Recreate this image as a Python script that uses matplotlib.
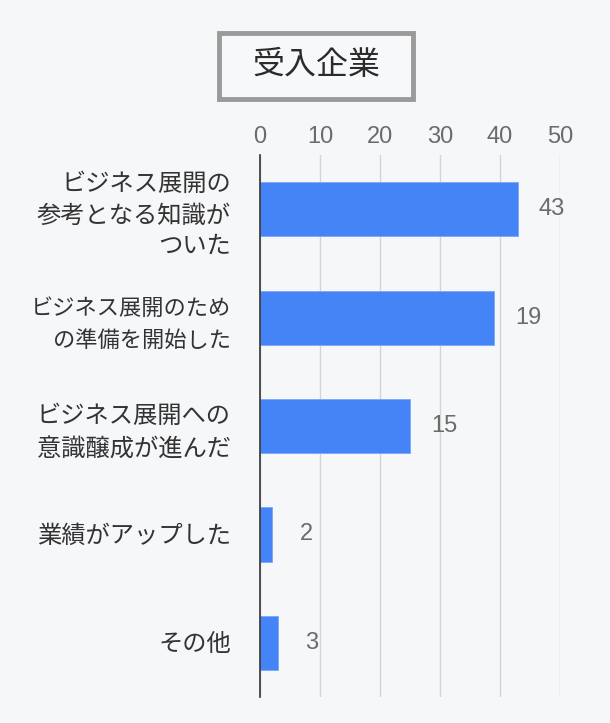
import matplotlib.pyplot as plt
from matplotlib.patches import Rectangle

# -------------------------------
# DATA
# -------------------------------
categories = [
    "ビジネス展開の\n参考となる知識が\nついた",
    "ビジネス展開のため\nの準備を開始した",
    "ビジネス展開への\n意識醸成が進んだ",
    "業績がアップした",
    "その他",
]
# bar lengths as drawn in the picture
bar_values = [43, 39, 25, 2, 3]
# numbers printed next to the bars
value_labels = ["43", "19", "15", "2", "3"]
x_ticks = [0, 10, 20, 30, 40, 50]
title = "受入企業"

# -------------------------------
# STYLE
# -------------------------------
bg = "#f6f7f9"
bar_color = "#4584f7"
jp_fonts = ["Liberation Sans", "Noto Sans CJK JP"]
plt.rcParams["font.family"] = jp_fonts

fig = plt.figure(figsize=(6.1, 7.23), dpi=100, facecolor=bg)
ax = fig.add_axes([260 / 610, 1 - 697 / 723, 300 / 610, 542 / 723])
ax.set_facecolor(bg)

y = list(range(len(categories)))
ax.barh(y, bar_values, height=0.5, color=bar_color,
        edgecolor="#7aa7fa", linewidth=0.6, zorder=3)

ax.set_xlim(0, 50)
ax.set_ylim(len(categories) - 0.5, -0.5)

ax.set_xticks(x_ticks)
ax.xaxis.tick_top()
ax.tick_params(axis="x", length=0, pad=5, labelsize=17, labelcolor="#6b6b6b")
ax.grid(axis="x", color="#d4d4d4", linewidth=1, zorder=0)

ax.set_yticks(y)
ax.set_yticklabels(categories)
ax.tick_params(axis="y", length=0, pad=21, labelsize=17.5, labelcolor="#333333")
for i, lbl in enumerate(ax.get_yticklabels()):
    lbl.set_multialignment("right")
    lbl.set_linespacing(1.5)
    if i == 1:
        # the long second label is drawn a bit smaller in the original
        lbl.set_fontsize(16)
        lbl.set_linespacing(1.65)

for side in ["top", "right", "bottom"]:
    ax.spines[side].set_visible(False)
ax.spines["left"].set_color("#333333")
ax.spines["left"].set_linewidth(1.2)
ax.spines["left"].set_zorder(4)

for i in range(len(bar_values)):
    ax.annotate(value_labels[i], (bar_values[i], i), xytext=(34, 0),
                textcoords="offset pixels", ha="center", va="center",
                fontsize=17, color="#6b6b6b", annotation_clip=False)

# title box
box = Rectangle((219 / 610, 1 - 99 / 723), 194 / 610, 66 / 723,
                transform=fig.transFigure, facecolor="#f7f8fa",
                edgecolor="#9a9a9a", linewidth=3.5)
fig.add_artist(box)
fig.text(316 / 610, 1 - 66 / 723, title, ha="center", va="center",
         fontsize=23, color="#2b2b2b")

fig.savefig("out.png", facecolor=bg)
